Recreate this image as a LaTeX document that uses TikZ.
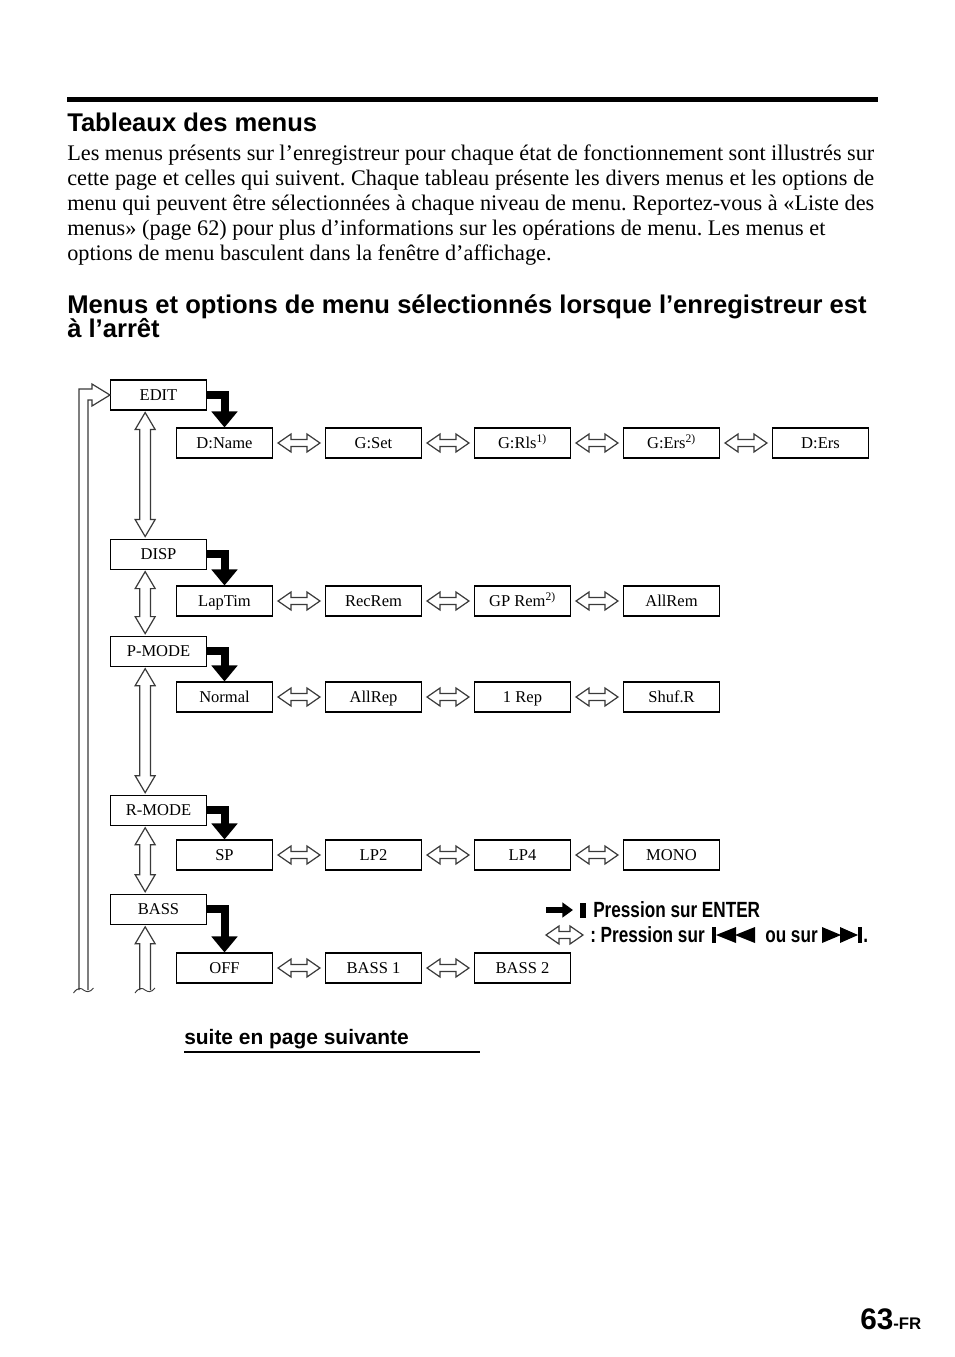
\documentclass[tikz,border=0pt]{standalone}
\usepackage{fontspec}
\setmainfont{Liberation Serif}
\setsansfont{Liberation Sans}
\newfontfamily\condsans{Liberation Sans}[FakeStretch=0.78]
\usepackage{tikz}
\usetikzlibrary{arrows.meta,positioning,calc}
\definecolor{shaft}{HTML}{3A3A3A}
\frenchspacing

\begin{document}
\begin{tikzpicture}[
    x=0.75pt, y=-0.75pt,
    node distance=38.95pt,
    menubox/.style={rectangle, draw=black, line width=0.8pt, fill=white,
                font=\fontsize{12.4}{14}\selectfont, minimum width=72pt, minimum height=22.5pt,
                inner sep=0pt, text height=9.6pt, text depth=1.8pt},
    optbox/.style={menubox},
    bodyline/.style={anchor=base west, inner sep=0pt, font=\fontsize{16.7}{18.75}\selectfont},
    heading/.style={anchor=base west, inner sep=0pt, font=\sffamily\bfseries\fontsize{19.2}{24}\selectfont},
    legend/.style={anchor=base west, inner sep=0pt, font=\condsans\bfseries\fontsize{16.5}{20}\selectfont},
    enter/.style={line width=6pt, -{Triangle[length=12pt,width=19pt]}},
    hollow/.style={draw=shaft, line width=0.9pt, line join=miter},
    hsel/.style={hollow, fill=white,
      to path={let \p1=(\tikztostart), \p2=(\tikztotarget) in
        (\x1+3.75pt,\y1) -- (\x1+13.5pt,\y1+6.75pt) -- (\x1+13.5pt,\y1+2.6pt) -- (\x2-13.5pt,\y1+2.6pt)
        -- (\x2-13.5pt,\y1+6.75pt) -- (\x2-3.75pt,\y1) -- (\x2-13.5pt,\y1-6.75pt) -- (\x2-13.5pt,\y1-2.6pt)
        -- (\x1+13.5pt,\y1-2.6pt) -- (\x1+13.5pt,\y1-6.75pt) -- cycle}},
    vsel/.style={hollow, fill=white,
      to path={let \p1=(\tikztostart), \p2=(\tikztotarget) in
        (\x1,\y1-1.5pt) -- (\x1+7.5pt,\y1-14.25pt) -- (\x1+4pt,\y1-14.25pt) -- (\x1+4pt,\y2+14.25pt)
        -- (\x1+7.5pt,\y2+14.25pt) -- (\x1,\y2+1.5pt) -- (\x1-7.5pt,\y2+14.25pt) -- (\x1-4pt,\y2+14.25pt)
        -- (\x1-4pt,\y1-14.25pt) -- (\x1-7.5pt,\y1-14.25pt) -- cycle}},
    upsel/.style={hollow,
      to path={let \p1=(\tikztostart), \p2=(\tikztotarget) in
        (\x1-4pt,\y2) -- (\x1-4pt,\y1-14.25pt) -- (\x1-7.5pt,\y1-14.25pt) -- (\x1,\y1-1.5pt)
        -- (\x1+7.5pt,\y1-14.25pt) -- (\x1+4pt,\y1-14.25pt) -- (\x1+4pt,\y2)}},
    cut/.style={hollow, line width=0.7pt}
  ]
  \useasboundingbox[fill=white] (0,0) rectangle (954,1357);

  \draw[line width=3.75pt] (67,99) -- (878,99);
  \node[heading] (title) at (67,131) {Tableaux des menus};

  \node[bodyline] (body1) at (67,160) {\makebox[605.25pt][s]{Les menus présents sur l’enregistreur pour chaque état de fonctionnement sont illustrés sur}};
  \node[bodyline] (body2) at (67,185) {\makebox[605.25pt][s]{cette page et celles qui suivent. Chaque tableau présente les divers menus et les options de}};
  \node[bodyline] (body3) at (67,210) {\makebox[605.25pt][s]{menu qui peuvent être sélectionnées à chaque niveau de menu. Reportez-vous à «Liste des}};
  \node[bodyline] (body4) at (67,235) {menus» (page 62) pour plus d’informations sur les opérations de menu. Les menus et};
  \node[bodyline] (body5) at (67,260) {options de menu basculent dans la fenêtre d’affichage.};

  \node[heading] (sub1) at (67,313) {Menus et options de menu sélectionnés lorsque l’enregistreur est};
  \node[heading] (sub2) at (67,337) {à l’arrêt};

  \node[menubox] (edit) at (158.5,395) {EDIT};
  \node[menubox, below=96pt of edit] (disp) {DISP};
  \node[menubox, below=49.5pt of disp] (pmode) {P-MODE};
  \node[menubox, below=96pt of pmode] (rmode) {R-MODE};
  \node[menubox, below=51pt of rmode] (bass) {BASS};

  \node[optbox] (dname) at (224.5,443) {D:Name};
  \node[optbox, right=of dname] (gset) {G:Set};
  \node[optbox, right=of gset] (grls) {G:Rls\textsuperscript{1)}};
  \node[optbox, right=of grls] (gers) {G:Ers\textsuperscript{2)}};
  \node[optbox, right=of gers] (ders) {D:Ers};

  \node[optbox] (laptim) at (224.5,601) {LapTim};
  \node[optbox, right=of laptim] (recrem) {RecRem};
  \node[optbox, right=of recrem] (gprem) {GP Rem\textsuperscript{2)}};
  \node[optbox, right=of gprem] (allrem) {AllRem};

  \node[optbox] (normal) at (224.5,697) {Normal};
  \node[optbox, right=of normal] (allrep) {AllRep};
  \node[optbox, right=of allrep] (onerep) {1 Rep};
  \node[optbox, right=of onerep] (shufr) {Shuf.R};

  \node[optbox] (sp) at (224.5,855) {SP};
  \node[optbox, right=of sp] (lptwo) {LP2};
  \node[optbox, right=of lptwo] (lpfour) {LP4};
  \node[optbox, right=of lpfour] (mono) {MONO};

  \node[optbox] (off) at (224.5,968) {OFF};
  \node[optbox, right=of off] (bassone) {BASS 1};
  \node[optbox, right=of bassone] (basstwo) {BASS 2};

  \draw[enter] (edit.east) -| (dname.north);
  \draw[enter] (disp.east) -| (laptim.north);
  \draw[enter] (pmode.east) -| (normal.north);
  \draw[enter] (rmode.east) -| (sp.north);
  \draw[enter] (bass.east) -| (off.north);

  \draw[hsel] (dname.east) to (gset.west);
  \draw[hsel] (gset.east) to (grls.west);
  \draw[hsel] (grls.east) to (gers.west);
  \draw[hsel] (gers.east) to (ders.west);
  \draw[hsel] (laptim.east) to (recrem.west);
  \draw[hsel] (recrem.east) to (gprem.west);
  \draw[hsel] (gprem.east) to (allrem.west);
  \draw[hsel] (normal.east) to (allrep.west);
  \draw[hsel] (allrep.east) to (onerep.west);
  \draw[hsel] (onerep.east) to (shufr.west);
  \draw[hsel] (sp.east) to (lptwo.west);
  \draw[hsel] (lptwo.east) to (lpfour.west);
  \draw[hsel] (lpfour.east) to (mono.west);
  \draw[hsel] (off.east) to (bassone.west);
  \draw[hsel] (bassone.east) to (basstwo.west);

  \draw[vsel] ([xshift=-10pt]edit.south) to ([xshift=-10pt]disp.north);
  \draw[vsel] ([xshift=-10pt]disp.south) to ([xshift=-10pt]pmode.north);
  \draw[vsel] ([xshift=-10pt]pmode.south) to ([xshift=-10pt]rmode.north);
  \draw[vsel] ([xshift=-10pt]rmode.south) to ([xshift=-10pt]bass.north);

  \coordinate (bassfoot) at (145,990);
  \coordinate (loopfoot) at (83.5,990);
  \draw[upsel] ([xshift=-10pt]bass.south) to (bassfoot);
  \draw[hollow] ($(loopfoot)+(-4.5,0)$) |- ($(edit.west)+(-18,-6)$) -- ($(edit.west)+(-18,-11)$)
    -- (edit.west) -- ($(edit.west)+(-18,11)$) -- ($(edit.west)+(-18,5)$) -| ($(loopfoot)+(4.5,0)$);
  \draw[cut] ($(bassfoot)+(-10,3)$) .. controls ($(bassfoot)+(-6,-3)$) and ($(bassfoot)+(-2,-2)$) .. (bassfoot)
    .. controls ($(bassfoot)+(3,2)$) and ($(bassfoot)+(6,3)$) .. ($(bassfoot)+(10,-2)$);
  \draw[cut] ($(loopfoot)+(-10,3)$) .. controls ($(loopfoot)+(-6,-3)$) and ($(loopfoot)+(-2,-2)$) .. (loopfoot)
    .. controls ($(loopfoot)+(3,2)$) and ($(loopfoot)+(6,3)$) .. ($(loopfoot)+(10,-2)$);

  \draw[line width=4.5pt, -{Triangle[length=8pt,width=11pt]}] (546,910) -- (573,910);
  \fill (580,903) rectangle (586,918);
  \node[legend] (legenter) at (593,917) {Pression sur ENTER};
  \draw[hsel] (541,935) to (588,935);
  \node[legend] (legskip) at (590,942) {: Pression sur};
  \fill (712,927) rectangle (716,943);
  \fill (716,935) -- (736,927) -- (736,943) -- cycle;
  \fill (735,935) -- (755,927) -- (755,943) -- cycle;
  \node[legend] (legor) at (765,942) {ou sur};
  \fill (822,927) -- (841,935) -- (822,943) -- cycle;
  \fill (840,927) -- (858,935) -- (840,943) -- cycle;
  \fill (858,927) rectangle (862,943);
  \node[legend] (legdot) at (863,942) {.};

  \node[anchor=base west, inner sep=0pt, font=\sffamily\bfseries\fontsize{15.7}{18}\selectfont] (suite) at (184,1044) {suite en page suivante};
  \draw[line width=1.5pt] ([yshift=-6pt]suite.base west) -- ++(296,0);

  \node[anchor=base west, inner sep=0pt, font=\sffamily\bfseries] (pagenum) at (860,1329)
    {\fontsize{22.3}{24}\selectfont 63\fontsize{12.6}{14}\selectfont -FR};
\end{tikzpicture}
\end{document}
